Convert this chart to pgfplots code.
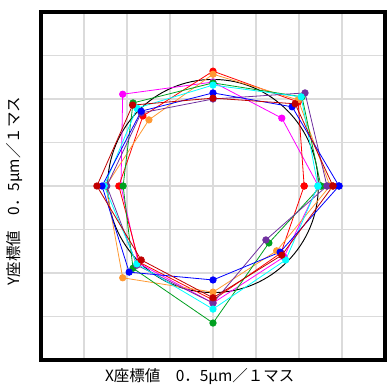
\documentclass[border=0pt]{standalone}
\usepackage{pgfplots}
\pgfplotsset{compat=1.18}
\usepackage{fontspec}
\newfontfamily\jp{Noto Sans CJK JP}
\usetikzlibrary{calc}

\definecolor{cRed}{HTML}{FF0000}
\definecolor{cMag}{HTML}{FF00FF}
\definecolor{cGreen}{HTML}{00A020}
\definecolor{cBlue}{HTML}{0000FF}
\definecolor{cDark}{HTML}{C00000}
\definecolor{cOrange}{HTML}{FF9933}
\definecolor{cCyan}{HTML}{00FFFF}
\definecolor{cPurple}{HTML}{7030A0}

\begin{document}
\begin{tikzpicture}
\begin{axis}[
  name=a,
  scale only axis,
  width=258pt, height=261pt,
  xmin=-4, xmax=4, ymin=-4, ymax=4,
  xtick={-4,...,4}, ytick={-4,...,4},
  xticklabels={}, yticklabels={},
  major tick length=0pt,
  grid=major,
  major grid style={line width=1pt, color=black!14},
  axis line style={line width=2.6pt},
  clip=false,
  every axis plot/.append style={line width=0.6pt, mark=*, mark size=2.4pt},
]
% reference circle
\draw[black, line width=0.7pt] (axis cs:0,0) ellipse [x radius=2.45, y radius=2.45];

% measured contours (8 points each, closed)
\addplot[cMag, mark options={fill=cMag, draw=cMag}] coordinates {
 (2.45,0) (1.60,1.56) (0,2.39) (-2.10,2.11) (-2.14,0) (-1.74,-1.77) (0,-2.69) (1.65,-1.63) (2.45,0)};
\addplot[cRed, mark options={fill=cRed, draw=cRed}] coordinates {
 (2.12,0) (1.98,1.93) (0,2.64) (-1.63,1.61) (-2.19,0) (-1.72,-1.75) (0,-2.62) (1.58,-1.54) (2.12,0)};
\addplot[cOrange, mark options={fill=cOrange, draw=cOrange}] coordinates {
 (2.72,0) (1.98,1.98) (0,2.57) (-1.49,1.52) (-2.49,0) (-2.10,-2.11) (0,-2.44) (1.48,-1.49) (2.72,0)};
\addplot[cGreen, mark options={fill=cGreen, draw=cGreen}] coordinates {
 (2.51,0) (2.07,2.05) (0,2.37) (-1.86,1.91) (-2.09,0) (-1.86,-1.89) (0,-3.15) (1.30,-1.31) (2.51,0)};
\addplot[cPurple, mark options={fill=cPurple, draw=cPurple}] coordinates {
 (2.65,0) (2.14,2.14) (0,2.00) (-1.67,1.68) (-2.47,0) (-1.77,-1.82) (0,-2.69) (1.23,-1.24) (2.65,0)};
\addplot[cCyan, mark options={fill=cCyan, draw=cCyan}] coordinates {
 (2.44,0) (2.05,2.05) (0,2.32) (-1.77,1.79) (-2.53,0) (-1.77,-1.79) (0,-2.83) (1.69,-1.70) (2.44,0)};
\addplot[cBlue, mark options={fill=cBlue, draw=cBlue}] coordinates {
 (2.93,0) (1.84,1.82) (0,2.14) (-1.67,1.72) (-2.58,0) (-1.95,-1.98) (0,-2.16) (1.56,-1.52) (2.93,0)};
\addplot[cDark, mark options={fill=cDark, draw=cDark}] coordinates {
 (2.79,0) (1.91,1.89) (0,2.02) (-1.87,1.86) (-2.70,0) (-1.67,-1.70) (0,-2.57) (1.60,-1.59) (2.79,0)};
\end{axis}

\node[font=\jp\fontsize{11.6}{14}\selectfont, anchor=center]
  at ($(a.south)+(-10pt,-12pt)$) {X座標値　0．5μm／１マス};
\node[font=\jp\fontsize{11.6}{14}\selectfont, anchor=center, rotate=90]
  at ($(a.west)+(-20pt,-4pt)$) {Y座標値　0．5μm／１マス};

\pgfresetboundingbox
\path ($(a.south west)+(-30.75pt,-19.5pt)$) rectangle ($(a.north east)+(1.5pt,9pt)$);
\end{tikzpicture}
\end{document}
